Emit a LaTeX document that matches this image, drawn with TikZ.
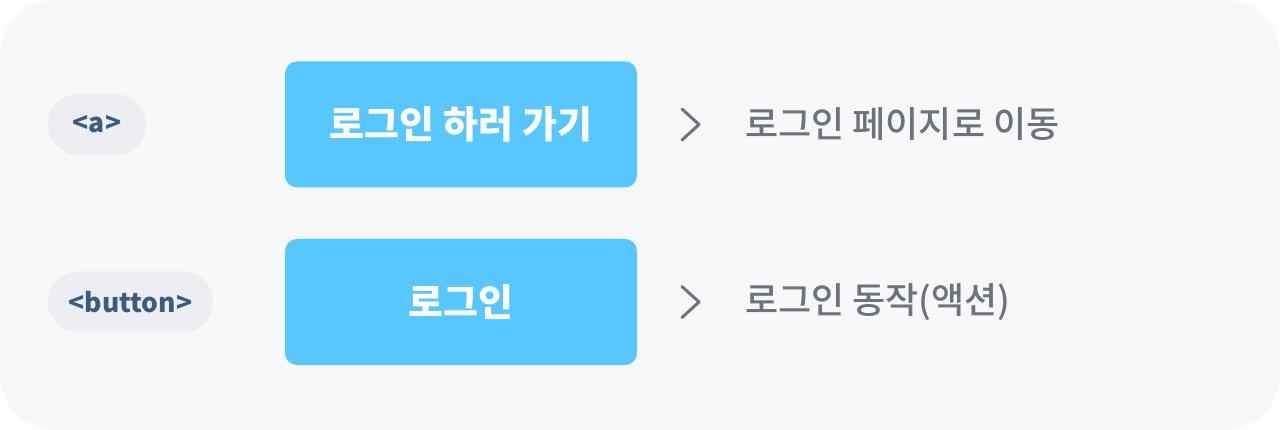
\documentclass[tikz,border=0pt]{standalone}
\usepackage{fontspec}
\setmainfont{Noto Sans CJK KR}
\newfontfamily\krmed{Noto Sans CJK KR Medium}
\usetikzlibrary{calc}

\definecolor{panel}{HTML}{F7F8FA}
\definecolor{pill}{HTML}{ECEEF2}
\definecolor{tagtext}{HTML}{3B5B80}
\definecolor{btnblue}{HTML}{58C7FF}
\definecolor{notegray}{HTML}{6E737B}

\begin{document}
\begin{tikzpicture}[x=1pt, y=-1pt,
	tag/.style={fill=pill, rounded corners=30pt, minimum height=61pt,
		inner sep=0pt, text=tagtext, font=\bfseries\fontsize{26.5}{26.5}\selectfont},
	btn/.style={fill=btnblue, rounded corners=12pt, minimum width=352pt,
		minimum height=126pt, text=white, font=\bfseries\fontsize{38}{38}\selectfont},
	note/.style={anchor=west, inner sep=0pt, text=notegray,
		font=\krmed\fontsize{36}{36}\selectfont},
	chev/.style={draw=notegray, line width=3pt, line cap=round, line join=round}]
	\def \rowa {124.5}
	\def \rowb {302}

	\useasboundingbox (0,0) rectangle (1280,430);
	\fill[panel, rounded corners=55pt] (0,0) rectangle (1280,430);

	% left tags
	\node[tag, minimum width=98pt]  (taga)   at (97,\rowa)  {<a>};
	\node[tag, minimum width=165pt] (tagbtn) at (130.5,\rowb) {<button>};

	% buttons
	\node[btn] (gologin) at (461,\rowa) {로그인 하러 가기};
	\node[btn] (login)   at (461,\rowb) {로그인};

	% arrows
	\coordinate (arra) at (699,\rowa);
	\coordinate (arrb) at (699,\rowb);
	\draw[chev] ($(arra)+(-17,-15.5)$) -- (arra) -- ($(arra)+(-17,15.5)$);
	\draw[chev] ($(arrb)+(-17,-15.5)$) -- (arrb) -- ($(arrb)+(-17,15.5)$);

	% descriptions
	\node[note] (notea) at (745,\rowa) {로그인 페이지로 이동};
	\node[note] (noteb) at (745,\rowb) {로그인 동작(액션)};
\end{tikzpicture}
\end{document}
